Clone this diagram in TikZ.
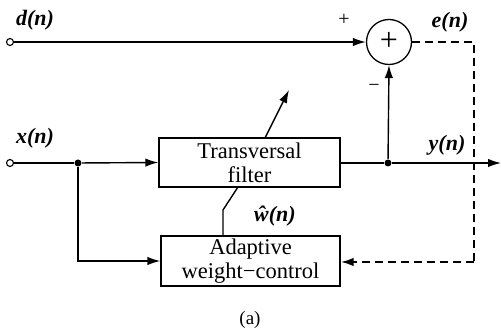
\documentclass[tikz,border=0pt]{standalone}
\usepackage{fontspec}
\setmainfont{Liberation Serif}
\usetikzlibrary{arrows.meta}
\begin{document}
\begin{tikzpicture}[x=1pt,y=-1pt,
  line width=1.4pt,
  tip/.style={-{Latex[length=13pt,width=8.5pt]}},
  blockbox/.style={draw,rectangle,inner sep=0pt,align=center,
    font=\fontsize{22.5}{24}\selectfont},
  terminal/.style={draw,circle,inner sep=0pt,minimum size=7pt,line width=1.1pt,fill=white},
  junction/.style={fill,circle,inner sep=0pt,minimum size=7pt},
  sig/.style={font=\fontsize{22}{24}\selectfont\bfseries\itshape},
  sign/.style={font=\fontsize{20}{22}\selectfont},
  fb/.style={dashed,dash pattern=on 8pt off 5pt,line width=2pt}]
\useasboundingbox (0,0) rectangle (501,336);

% blocks
\node[blockbox,minimum width=181pt,minimum height=49pt] (tf) at (249.5,162.5)
  {Transversal\\filter};
\node[blockbox,minimum width=179pt,minimum height=50pt] (aw) at (250.5,261)
  {Adaptive\\weight\textminus control};
\node[draw,circle,minimum size=45pt,inner sep=0pt,line width=1.3pt] (sum) at (389,42)
  {\fontsize{32}{32}\selectfont\raisebox{1pt}{+}};

% terminals and junctions
\node[terminal] (din) at (10,42) {};
\node[terminal] (xin) at (10,163) {};
\node[junction] (jx) at (78,163) {};
\node[junction] (jy) at (388,163) {};
\coordinate (yout) at (501,163);
\coordinate (ec) at (474,42);
\coordinate (ed) at (474,262);
\coordinate (xb) at (78,261);
\coordinate (wk) at (223,210);
\coordinate (wb) at (223,236);
\coordinate (wt) at (238,187);
\coordinate (da) at (265,138);
\coordinate (db) at (289,90);

% desired signal to summer
\draw[tip] (din) -- (sum.west);
% input to filter and weight control
\draw (xin) -- (jx);
\draw[tip] (jx) -- (tf.west);
\draw[tip] (jx) -- (xb) -- (aw.west |- xb);
% filter output
\draw (tf.east |- jy) -- (jy);
\draw[tip] (jy) -- (yout);
\draw[tip] (jy) -- (sum.south);
% error feedback
\draw[fb] (sum.east) -- (ec) -- (ed);
\draw[fb,tip] (ed) -- (aw.east |- ed);
% weight update path
\draw (wb) -- (wk) -- (wt);
\draw[tip] (da) -- (db);

% labels
\node[sig] (ld) at (35,20) {d(n)};
\node[sig] (lx) at (35,138) {x(n)};
\node[sig] (le) at (450,22) {e(n)};
\node[sig] (ly) at (447,145) {y(n)};
\node[sig] (lw) at (275,216) {ŵ(n)};
\node[sign] (lp) at (344,20) {+};
\node[sign] (lm) at (374,88) {\textminus};
\node[font=\fontsize{19}{21}\selectfont] (cap) at (250,320) {(a)};
\end{tikzpicture}
\end{document}
